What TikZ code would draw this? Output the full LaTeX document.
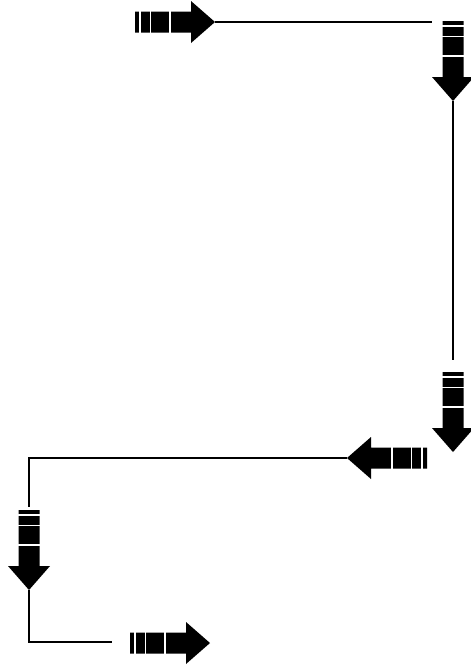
\documentclass[tikz,border=0pt]{standalone}
\usetikzlibrary{positioning, calc}

\tikzset{
  link/.style={draw=black, line width=1.2pt},
  stripedarrow/.pic={
    \fill[black] (0,-10.5) -- (56,-10.5) -- (56,-21) -- (80,0) -- (56,21) -- (56,10.5) -- (0,10.5) -- cycle;
    \foreach \s in {5,15.5,35} {
      \draw[white, line width=1.1pt] (\s,-11.5) -- (\s,11.5);
    }
    \coordinate (-tail) at (0,0);
    \coordinate (-tip) at (80,0);
  }
}

\begin{document}
\begin{tikzpicture}[x=1pt, y=-1pt]
    \useasboundingbox (0,0) rectangle (471,667);
    % block arrows: name/x/y/rotation
    \foreach \n/\x/\y/\r in {a1/135/22/0, a2/453/21/-90, a3/453/372/-90, a4/427/458/180, a5/29/510/-90, a6/130/643/0} {
      \pic (\n) at (\x,\y) [rotate=\r] {stripedarrow};
    }
    \coordinate (e1) at (432,22);
    \coordinate (e2) at (453,360);
    \coordinate (e4) at (29,507);
    \coordinate (e5) at (112,642);
    \draw[link] (a1-tip) -- (e1);
    \draw[link] (a2-tip) -- (e2);
    \draw[link] (a4-tip) -| (e4);
    \draw[link] (a5-tip) |- (e5);
\end{tikzpicture}
\end{document}
